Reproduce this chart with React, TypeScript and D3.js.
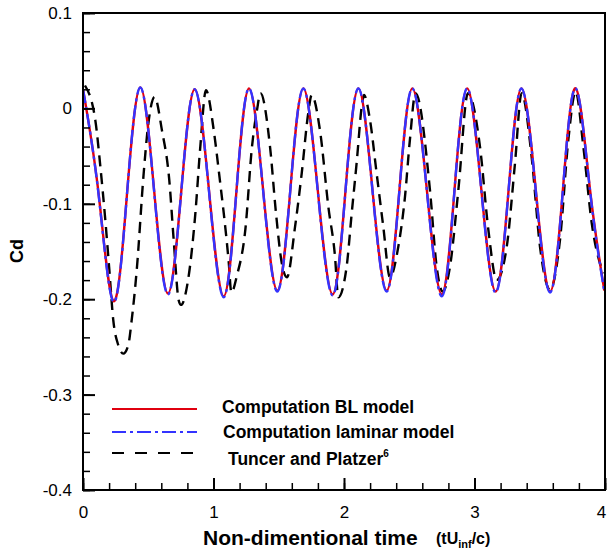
import { useEffect, useRef } from 'react';
import * as d3 from 'd3';

// computed Cd (both models share the same time samples)
const tComp = [
  0.0, 0.12, 0.235, 0.337, 0.439, 0.545, 0.651, 0.753, 0.856, 0.967, 1.078, 1.175, 1.272, 1.38,
  1.489, 1.589, 1.689, 1.8, 1.913, 2.011, 2.11, 2.218, 2.327, 2.425, 2.524, 2.636, 2.749, 2.846,
  2.944, 3.053, 3.162, 3.261, 3.36, 3.47, 3.579, 3.677, 3.775, 3.885, 3.995,
];
const cdBL = [
  0.02, -0.09, -0.202, -0.09, 0.022, -0.086, -0.194, -0.087, 0.02, -0.088, -0.197, -0.088, 0.021,
  -0.085, -0.191, -0.085, 0.021, -0.087, -0.195, -0.087, 0.021, -0.085, -0.191, -0.085, 0.021,
  -0.087, -0.195, -0.087, 0.021, -0.086, -0.192, -0.086, 0.021, -0.086, -0.192, -0.086, 0.021,
  -0.085, -0.191,
];
const cdLaminar = [
  0.02, -0.091, -0.203, -0.09, 0.022, -0.087, -0.195, -0.087, 0.02, -0.089, -0.198, -0.088, 0.021,
  -0.086, -0.192, -0.085, 0.021, -0.088, -0.196, -0.087, 0.021, -0.086, -0.192, -0.085, 0.021,
  -0.088, -0.197, -0.087, 0.021, -0.087, -0.193, -0.086, 0.021, -0.087, -0.193, -0.086, 0.021,
  -0.086, -0.192,
];

// Tuncer and Platzer reference data
const tExp = [
  0.015, 0.094, 0.133, 0.171, 0.2, 0.232, 0.27, 0.309, 0.347, 0.373, 0.412, 0.465, 0.498, 0.549,
  0.605, 0.661, 0.695, 0.733, 0.751, 0.805, 0.861, 0.899, 0.942, 1.002, 1.04, 1.116, 1.137, 1.18,
  1.244, 1.295, 1.333, 1.36, 1.433, 1.479, 1.523, 1.563, 1.625, 1.676, 1.726, 1.752, 1.816, 1.88,
  1.931, 1.956, 2.02, 2.059, 2.097, 2.136, 2.153, 2.199, 2.25, 2.301, 2.352, 2.416, 2.467, 2.505,
  2.548, 2.659, 2.71, 2.756, 2.812, 2.876, 2.95, 3.042, 3.106, 3.17, 3.247, 3.31, 3.361, 3.438,
  3.502, 3.579, 3.655, 3.719, 3.775, 3.834, 3.898, 3.987,
];
const cdExp = [
  0.024, -0.012, -0.061, -0.117, -0.166, -0.222, -0.248, -0.257, -0.248, -0.222, -0.169, -0.068,
  -0.019, 0.012, -0.023, -0.075, -0.138, -0.201, -0.206, -0.18, -0.11, -0.04, 0.019, -0.023,
  -0.065, -0.16, -0.193, -0.175, -0.127, -0.04, -0.002, 0.016, -0.04, -0.11, -0.162, -0.177,
  -0.124, -0.068, -0.005, 0.014, -0.023, -0.103, -0.155, -0.198, -0.166, -0.11, -0.057, 0.002,
  0.014, -0.012, -0.068, -0.124, -0.177, -0.145, -0.093, -0.033, 0.016, -0.086, -0.166, -0.192,
  -0.166, -0.086, 0.016, -0.04, -0.127, -0.18, -0.145, -0.058, 0.016, -0.051, -0.145, -0.19,
  -0.138, -0.033, 0.0175, -0.04, -0.12, -0.173,
];

const xTicks = [0, 1, 2, 3, 4];
const yTicks = [-0.4, -0.3, -0.2, -0.1, 0, 0.1];
const legendLabels = ['Computation BL model', 'Computation laminar model', 'Tuncer and Platzer'];

const FONT = '"Liberation Sans", Arial, sans-serif';

const render = (node, custom) => {
  const svg = d3.select(node);
  svg.selectAll('*').remove();
  const { left, right, top, bottom } = custom.margins;
  const w = custom.width - left - right;
  const h = custom.height - top - bottom;

  // Scale
  const x = d3.scaleLinear().domain([0, 4]).range([0, w]);
  const y = d3.scaleLinear().domain([-0.4, 0.1]).range([h, 0]);

  const g = svg.append('g').attr('transform', `translate(${left},${top})`);

  g.append('clipPath')
    .attr('id', 'plot-clip')
    .append('rect')
    .attr('x', 0)
    .attr('y', 0)
    .attr('width', w)
    .attr('height', h);

  // lines
  const lineOf = (ts, vs, curve) =>
    d3
      .line()
      .x((d, i) => x(ts[i]))
      .y((d) => y(d))
      .curve(curve)(vs);

  const lines = g.append('g').attr('clip-path', 'url(#plot-clip)');
  lines
    .append('path')
    .attr('d', lineOf(tExp, cdExp, d3.curveMonotoneX))
    .attr('fill', 'none')
    .attr('stroke', '#000')
    .attr('stroke-width', 2.4)
    .attr('stroke-dasharray', '11,7');
  lines
    .append('path')
    .attr('d', lineOf(tComp, cdBL, d3.curveNatural))
    .attr('fill', 'none')
    .attr('stroke', '#e0000f')
    .attr('stroke-width', 2.4);
  lines
    .append('path')
    .attr('d', lineOf(tComp, cdLaminar, d3.curveNatural))
    .attr('fill', 'none')
    .attr('stroke', '#3333ff')
    .attr('stroke-width', 2.4)
    .attr('stroke-dasharray', '14,4,3,4');

  // frame
  g.append('rect')
    .attr('x', 0)
    .attr('y', 0)
    .attr('width', w)
    .attr('height', h)
    .attr('fill', 'none')
    .attr('stroke', '#000')
    .attr('stroke-width', 2);

  // Y axis
  const yMinor = d3.range(-0.4, 0.1001, 0.02);
  g.append('g')
    .call(d3.axisLeft(y).tickValues(yMinor).tickSize(-7).tickSizeOuter(0).tickFormat(() => ''))
    .call((s) => s.select('.domain').remove())
    .selectAll('line')
    .attr('stroke-width', 1.5);
  const yAxis = g
    .append('g')
    .call(
      d3
        .axisLeft(y)
        .tickValues(yTicks)
        .tickSize(-12)
        .tickSizeOuter(0)
        .tickPadding(11)
        .tickFormat((d) => d3.format('.1~f')(d).replace('−', '-')),
    );
  yAxis.select('.domain').remove();
  yAxis.selectAll('line').attr('stroke-width', 2);
  yAxis.selectAll('text').attr('font-family', FONT).attr('font-size', 17).attr('fill', '#000');

  // X axis
  const xMinor = d3.range(0, 4.001, 0.2);
  g.append('g')
    .attr('transform', `translate(0,${h})`)
    .call(d3.axisBottom(x).tickValues(xMinor).tickSize(-7).tickSizeOuter(0).tickFormat(() => ''))
    .call((s) => s.select('.domain').remove())
    .selectAll('line')
    .attr('stroke-width', 1.5);
  const xAxis = g
    .append('g')
    .attr('transform', `translate(0,${h})`)
    .call(d3.axisBottom(x).tickValues(xTicks).tickSize(-12).tickSizeOuter(0).tickPadding(16).tickFormat(d3.format('d')));
  xAxis.select('.domain').remove();
  xAxis.selectAll('line').attr('stroke-width', 2);
  xAxis
    .selectAll('text')
    .attr('font-family', FONT)
    .attr('font-size', 17)
    .attr('fill', '#000')
    .attr('dx', (d) => (d === 4 ? -4 : 0));

  // axis titles
  svg
    .append('text')
    .attr('x', 203)
    .attr('y', 545)
    .attr('font-family', FONT)
    .attr('font-weight', 'bold')
    .attr('font-size', 21)
    .text('Non-dimentional time');
  const unit = svg
    .append('text')
    .attr('x', 436)
    .attr('y', 544)
    .attr('font-family', FONT)
    .attr('font-weight', 'bold')
    .attr('font-size', 16);
  unit.append('tspan').text('(tU');
  unit.append('tspan').attr('font-size', 11).attr('dy', 4).text('inf');
  unit.append('tspan').attr('dy', -4).text('/c)');

  svg
    .append('text')
    .attr('transform', 'translate(23,251) rotate(-90)')
    .attr('text-anchor', 'middle')
    .attr('font-family', FONT)
    .attr('font-weight', 'bold')
    .attr('font-size', 18)
    .text('Cd');

  // legend
  const legendStyles = [
    { color: '#e0000f', dash: null, y: 409, tx: 222, ty: 413 },
    { color: '#3333ff', dash: '14,4,3,4', y: 432, tx: 223, ty: 438 },
    { color: '#000', dash: '12,11', y: 453, tx: 228, ty: 465 },
  ];
  legendLabels.forEach((label, i) => {
    const st = legendStyles[i];
    svg
      .append('line')
      .attr('x1', 112)
      .attr('x2', 197)
      .attr('y1', st.y)
      .attr('y2', st.y)
      .attr('stroke', st.color)
      .attr('stroke-width', 2)
      .attr('stroke-dasharray', st.dash);
    const t = svg
      .append('text')
      .attr('x', st.tx)
      .attr('y', st.ty)
      .attr('font-family', FONT)
      .attr('font-weight', 'bold')
      .attr('font-size', 17.5);
    t.append('tspan').text(label);
    if (i === 2) t.append('tspan').attr('font-size', 10).attr('dy', -8).text('6');
  });
};

export default function App() {
  const ref = useRef(null);
  useEffect(() => {
    render(ref.current, {
      width: 608,
      height: 549,
      margins: { top: 13, right: 3, bottom: 59, left: 83 },
    });
  }, []);
  return (
    <svg
      ref={ref}
      width={608}
      height={549}
      style={{ position: 'absolute', left: 0, top: 0, background: '#fff' }}
    ></svg>
  );
}
